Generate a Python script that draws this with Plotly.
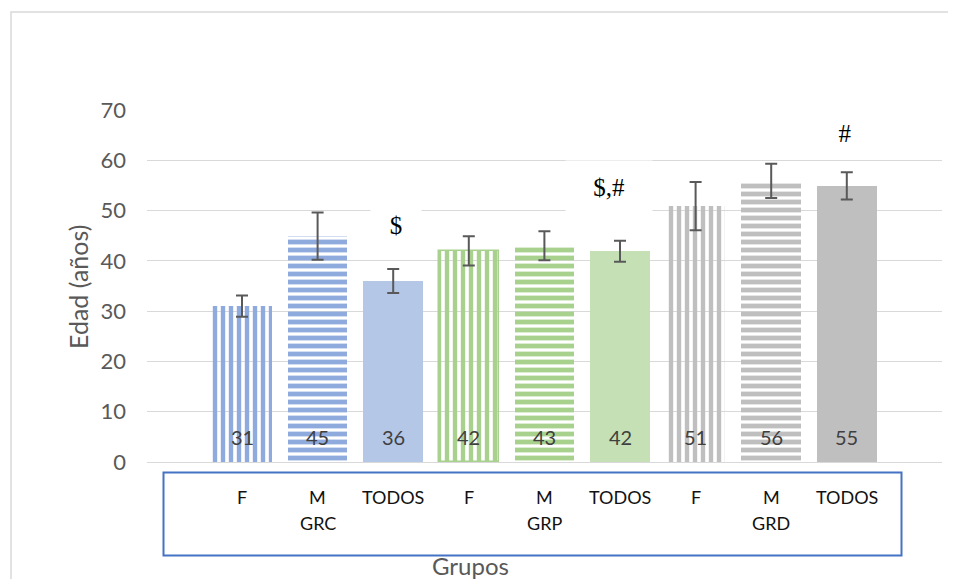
import plotly.graph_objects as go

# ---- data ----
sexo = ["F", "M", "TODOS", "F", "M", "TODOS", "F", "M", "TODOS"]
grupos = ["GRC", "GRP", "GRD"]
edad_media = [31.0, 44.9, 36.0, 42.0, 43.0, 41.9, 50.9, 55.9, 54.9]
edad_error = [2.1, 4.7, 2.4, 2.9, 2.9, 2.1, 4.8, 3.4, 2.7]
etiquetas = ["31", "45", "36", "42", "43", "42", "51", "56", "55"]
signif = ["", "", "$", "", "", "$,#", "", "", "#"]
y_ticks = [0, 10, 20, 30, 40, 50, 60, 70]

# ---- layout geometry (reference pixels; page body adds an 8px offset) ----
OFF = 8
W, H = 956 - OFF, 579 - OFF
PL, PR, PT, PB = 147, 942, 110, 462   # plot area in reference pixels
L, R, T, B = PL - OFF, W - (PR - OFF), PT - OFF, H - (PB - OFF)
PW, PH = PR - PL, PB - PT


def px(x):
    return (x - PL) / PW


def py(y):
    return (PB - y) / PH


xpos = list(range(len(sexo)))
x_first_px, step_px = 242, 75.6
x_range = [-(x_first_px - PL) / step_px, (PR - x_first_px) / step_px]

group_colors = [("#8FAADC", "#B4C7E7"), ("#A9D18E", "#C5E0B4"), ("#BFBFBF", "#BFBFBF")]
bar_shapes = ["|", "-", ""]
clear = "rgba(0,0,0,0)"

fig = go.Figure()
for gi, (stripe, solid) in enumerate(group_colors):
    idx = [3 * gi, 3 * gi + 1, 3 * gi + 2]
    fig.add_trace(go.Bar(
        x=[xpos[i] for i in idx], y=[edad_media[i] for i in idx], width=0.79,
        marker=dict(
            color=[stripe, stripe, solid],
            line=dict(color=[stripe if gi == 1 else clear, clear, clear],
                      width=[1.5 if gi == 1 else 0, 0, 0]),
            pattern=dict(shape=bar_shapes, bgcolor="white", fgopacity=1,
                         size=8, solidity=[0.55, 0.6, 0.5], fillmode="replace"),
        ),
        error_y=dict(type="data", array=[edad_error[i] for i in idx], visible=True,
                     color="#595959", thickness=2, width=6),
        hoverinfo="skip", showlegend=False,
    ))

font_main = "Lato, Carlito, Calibri, sans-serif"
ann = []
# data labels inside bars
for i, t in enumerate(etiquetas):
    ann.append(dict(x=xpos[i], y=0, xref="x", yref="y", text=t, showarrow=False,
                    yshift=25, font=dict(family=font_main, size=20, color="#404040")))
# category labels
for i, s in enumerate(sexo):
    ann.append(dict(x=xpos[i], y=py(497), xref="x", yref="paper", text=s,
                    showarrow=False, yanchor="middle",
                    font=dict(family=font_main, size=18, color="#111111")))
for g, gi in zip(grupos, [1, 4, 7]):
    ann.append(dict(x=xpos[gi], y=py(523), xref="x", yref="paper", text=g,
                    showarrow=False, yanchor="middle",
                    font=dict(family=font_main, size=18, color="#111111")))
# significance marks
sig_geom = {2: (396, 225, 50, 50), 5: (609, 187, 86, 52), 8: (845, 133, 46, 50)}
for i, s in enumerate(signif):
    if not s:
        continue
    cx, cy, w, h = sig_geom[i]
    ann.append(dict(x=px(cx), y=py(cy), xref="paper", yref="paper", text=s,
                    showarrow=False, xanchor="center", yanchor="middle",
                    width=w, height=h, bgcolor="white", borderpad=0,
                    font=dict(family="Liberation Serif, Times New Roman, serif",
                              size=25, color="#000000")))
# axis titles
ann.append(dict(x=px(78), y=py(287), xref="paper", yref="paper", text="Edad (años)",
                textangle=-90, showarrow=False, xanchor="center", yanchor="middle",
                font=dict(family=font_main, size=25, color="#595959")))
ann.append(dict(x=px(470), y=py(565), xref="paper", yref="paper", text="Grupos",
                showarrow=False, xanchor="center", yanchor="middle",
                font=dict(family=font_main, size=24, color="#595959")))

shapes = [
    # outer chart border
    dict(type="rect", xref="paper", yref="paper", x0=px(11), x1=px(990),
         y0=py(620), y1=py(12), line=dict(color="#D9D9D9", width=1.5),
         fillcolor=clear, layer="below"),
    # category box
    dict(type="rect", xref="paper", yref="paper", x0=px(163.5), x1=px(901.5),
         y0=py(555.5), y1=py(472.5), line=dict(color="#4472C4", width=2),
         fillcolor=clear),
]

fig.update_layout(
    width=W, height=H, autosize=False,
    margin=dict(l=L, r=R, t=T, b=B, pad=0),
    paper_bgcolor="white", plot_bgcolor="white",
    bargap=0, barmode="overlay", annotations=ann, shapes=shapes,
    xaxis=dict(range=x_range, showticklabels=False, showgrid=False,
               zeroline=False, showline=False, ticks="", fixedrange=True),
    yaxis=dict(range=[0, 70], tickvals=y_ticks, showgrid=True,
               gridcolor="#D9D9D9", gridwidth=1.3, zeroline=True,
               zerolinecolor="#D9D9D9", zerolinewidth=1.3, showline=False,
               ticks="", ticklabelstandoff=20,
               tickfont=dict(family=font_main, size=22, color="#595959")),
)

fig.write_html("out.html")
